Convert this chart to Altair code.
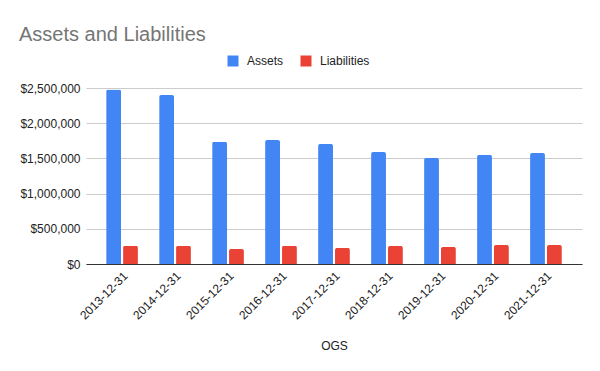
import altair as alt
import pandas as pd

dates = ["2013-12-31", "2014-12-31", "2015-12-31", "2016-12-31", "2017-12-31",
         "2018-12-31", "2019-12-31", "2020-12-31", "2021-12-31"]
assets = [2480000, 2400000, 1735000, 1760000, 1705000, 1590000, 1505000, 1550000, 1575000]
liabilities = [260000, 260000, 213000, 260000, 228000, 256000, 242000, 270000, 270000]
series = ["Assets", "Liabilities"]
colors = ["#4285F4", "#EA4335"]

rows = []
for d, a, l in zip(dates, assets, liabilities):
    rows.append({"date": d, "series": "Assets", "value": a})
    rows.append({"date": d, "series": "Liabilities", "value": l})
df = pd.DataFrame(rows)

FONT = "Liberation Sans"

chart = alt.Chart(df).mark_bar(
    cornerRadiusTopLeft=2, cornerRadiusTopRight=2
).encode(
    x=alt.X("date:N", sort=dates,
            scale=alt.Scale(paddingInner=0.4, paddingOuter=0.38),
            axis=alt.Axis(title="OGS", labelAngle=-45, labelAlign="right",
                          labelBaseline="top", labelFont=FONT, labelFontSize=12,
                          labelColor="#222222", ticks=False, labelPadding=6,
                          domainColor="#333333", domainWidth=1,
                          titleFont=FONT, titleFontSize=12, titleFontWeight="normal",
                          titleColor="#222222", titleY=85,
                          titleAlign="center", titleBaseline="alphabetic")),
    xOffset=alt.XOffset("series:N", sort=series,
                        scale=alt.Scale(paddingInner=0.12, paddingOuter=0)),
    y=alt.Y("value:Q", scale=alt.Scale(domain=[0, 2500000], nice=False),
            axis=alt.Axis(title=None, format="$,.0f", values=[0, 500000, 1000000, 1500000, 2000000, 2500000],
                          labelFont=FONT, labelFontSize=12, labelColor="#222222",
                          ticks=False, domain=False, labelPadding=6,
                          gridColor="#cccccc", gridWidth=1)),
    color=alt.Color("series:N", sort=series,
                    scale=alt.Scale(domain=series, range=colors),
                    legend=alt.Legend(title=None, orient="none", direction="horizontal",
                                      legendX=141, legendY=-33, symbolType="square",
                                      symbolSize=121, symbolStrokeWidth=0,
                                      labelFont=FONT, labelFontSize=12,
                                      labelColor="#222222", columnPadding=16,
                                      labelOffset=8)),
).properties(
    width=496, height=176,
    title=alt.TitleParams("Assets and Liabilities", anchor="start", font=FONT,
                          fontSize=20, fontWeight="normal", color="#757575",
                          frame="group", dx=-67, offset=10),
    autosize=alt.AutoSizeParams(type="none"),
    padding={"left": 78, "top": 80, "right": 10, "bottom": 99},
).configure_view(stroke=None)

chart.save("out.html", embed_options={"renderer": "svg", "actions": False})
